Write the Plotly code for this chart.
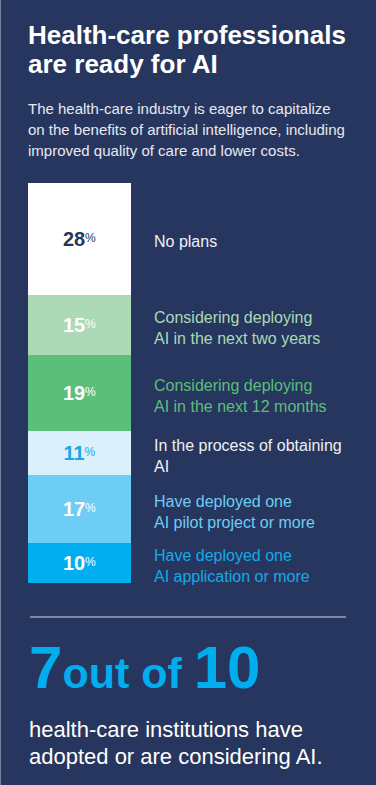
import plotly.graph_objects as go

categories = ["No plans",
              "Considering deploying<br>AI in the next two years",
              "Considering deploying<br>AI in the next 12 months",
              "In the process of obtaining<br>AI",
              "Have deployed one<br>AI pilot project or more",
              "Have deployed one<br>AI application or more"]
values = [28, 15, 19, 11, 17, 10]
bar_colors = ["#ffffff", "#acdab6", "#5bbf7b", "#dbeffc", "#6dcdf4", "#00aeef"]
pct_colors = ["#27365e", "#ffffff", "#ffffff", "#1aa7e6", "#ffffff", "#ffffff"]
label_colors = ["#eef0f5", "#acdab6", "#5bbf7b", "#eef0f5", "#6dcdf4", "#14aaea"]

title_lines = ["Health-care professionals", "are ready for AI"]
subtitle_lines = ["The health-care industry is eager to capitalize",
                  "on the benefits of artificial intelligence, including",
                  "improved quality of care and lower costs."]
callout_big = ["7", "out of ", "10"]
footer_lines = ["health-care institutions have", "adopted or are considering AI."]

BG = "#27365e"
W, H = 376, 785
FONT = "Liberation Sans"

fig = go.Figure()
for cat, v, bc, pc in zip(categories, values, bar_colors, pct_colors):
    fig.add_trace(go.Bar(
        x=["a"], y=[v], width=1, marker=dict(color=bc, line=dict(width=0)),
        text=[f"<b>{v}</b><span style='font-size:12px;baseline-shift:4px'>%</span>"],
        textposition="inside", insidetextanchor="middle", textangle=0,
        constraintext="none",
        textfont=dict(family=FONT, size=20, color=pc),
        hoverinfo="skip", showlegend=False))

def px_x(p):
    return p / W

def px_y(p):
    return 1 - p / H

bar_left, bar_right, bar_top, bar_bottom = 28, 131, 183, 583
fig.update_layout(
    width=W, height=H, margin=dict(l=0, r=0, t=0, b=0),
    paper_bgcolor=BG, plot_bgcolor=BG, barmode="stack", bargap=0,
    font=dict(family=FONT),
    xaxis=dict(domain=[px_x(bar_left), px_x(bar_right)], range=[-0.5, 0.5],
               visible=False, fixedrange=True),
    yaxis=dict(domain=[px_y(bar_bottom), px_y(bar_top)], range=[sum(values), 0],
               visible=False, fixedrange=True),
)

annotations = []
cum = 0
for cat, v, lc in zip(categories, values, label_colors):
    mid = cum + v / 2
    cum += v
    annotations.append(dict(
        x=px_x(152), xref="paper", y=mid, yref="y", text=cat, yshift=-3,
        xanchor="left", yanchor="middle", align="left", showarrow=False,
        font=dict(family=FONT, size=16, color=lc)))

def line(text, x, yc, size, color, bold=False):
    annotations.append(dict(
        x=px_x(x), xref="paper", y=px_y(yc), yref="paper",
        text=f"<b>{text}</b>" if bold else text,
        xanchor="left", yanchor="middle", align="left", showarrow=False,
        font=dict(family=FONT, size=size, color=color)))

for i, t in enumerate(title_lines):
    line(t, 26, 35 + i * 29, 26, "#ffffff", bold=True)
for i, t in enumerate(subtitle_lines):
    line(t, 26, 109 + i * 21, 15, "#e6e9f0")

annotations.append(dict(
    x=px_x(27), xref="paper", y=px_y(703), yref="paper",
    text=(f"<b><span style='font-size:60px'>{callout_big[0]}</span>"
          f"<span style='font-size:43px'>{callout_big[1]}</span>"
          f"<span style='font-size:60px'>{callout_big[2]}</span></b>"),
    xanchor="left", yanchor="bottom", align="left", showarrow=False,
    font=dict(family=FONT, size=60, color="#00aeef")))

for i, t in enumerate(footer_lines):
    line(t, 27, 729 + i * 27, 22, "#ffffff")

fig.update_layout(annotations=annotations)

shapes = [
    dict(type="line", xref="paper", yref="paper", x0=px_x(30), x1=px_x(346),
         y0=px_y(617), y1=px_y(617), line=dict(color="#9aa3b8", width=1.5)),
    dict(type="line", xref="paper", yref="paper", x0=0.0015, x1=0.0015,
         y0=0, y1=1, line=dict(color="#7a849c", width=1)),
]
fig.update_layout(shapes=shapes)

fig.write_html("out.html", config={"displayModeBar": False},
               post_script="document.body.style.margin='0';document.body.style.background='#27365e';")
